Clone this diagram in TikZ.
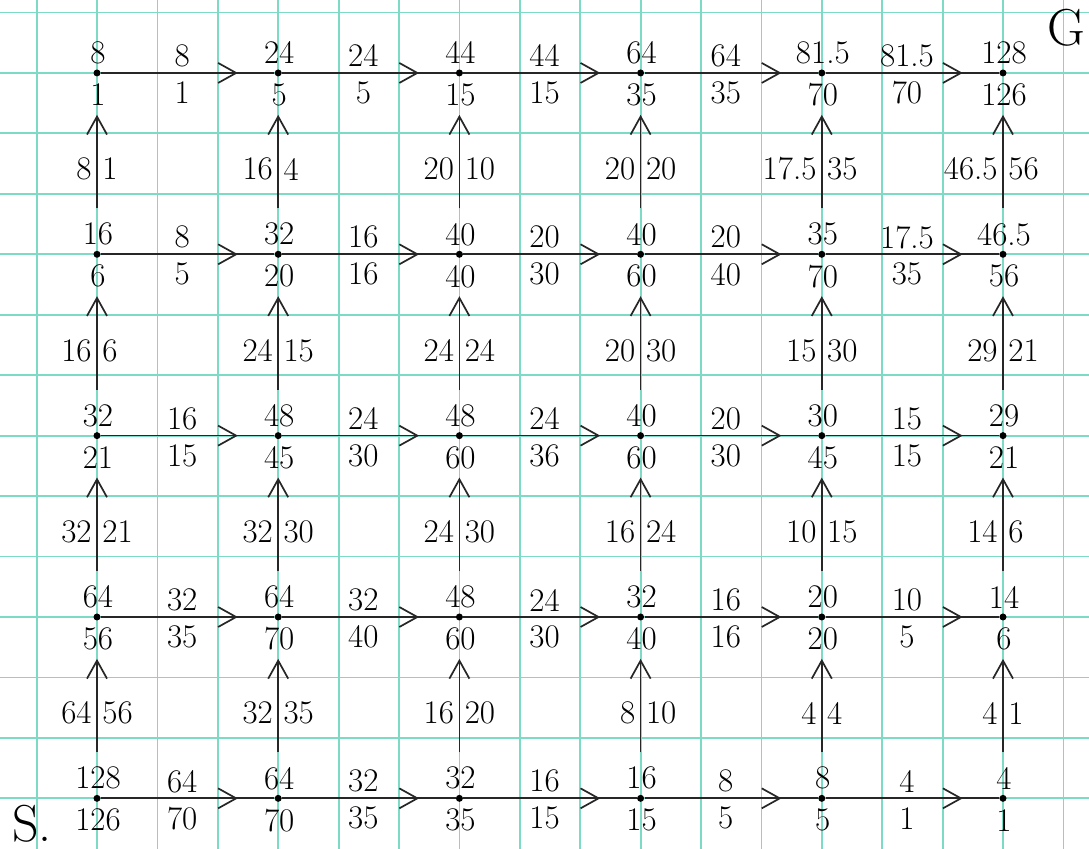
\documentclass[tikz,border=0pt]{standalone}
\usetikzlibrary{arrows.meta,decorations.markings,calc}
\definecolor{gridgreen}{RGB}{125,218,196}
\newcommand\noderow[2]{%
  \foreach \up/\dn [count=\c] in {#2} {%
    \node[dot] (n#1\c) at ({97+181.2*(\c-1)},{72.95+181.35*(#1-1)}) {};
    \node[num] (n#1\c-t) at ($(n#1\c)+(1,-20)$) {\up};
    \node[num] (n#1\c-b) at ($(n#1\c)+(1,22)$) {\dn};
  }}
\newcommand\hrow[2]{%
  \foreach \up/\dn [count=\c] in {#2} {%
    \pgfmathtruncatemacro\d{\c+1}
    \draw[hedge] (n#1\c) -- (n#1\d);
    \node[num] (h#1\c-t) at ($(n#1\c)!0.47!(n#1\d)+(0,-17)$) {\up};
    \node[num] (h#1\c-b) at ($(n#1\c)!0.47!(n#1\d)+(0,20)$) {\dn};
  }}
\newcommand\vrow[2]{%
  \foreach \lf/\rt [count=\c] in {#2} {%
    \pgfmathtruncatemacro\u{#1-1}
    \draw[vedge] (n#1\c) -- (n\u\c);
    \node[num,anchor=east] (v#1\c-l) at ($(n#1\c)!0.47!(n\u\c)+(-5,0)$) {\lf};
    \node[num,anchor=west] (v#1\c-r) at ($(n#1\c)!0.47!(n\u\c)+(5,0)$) {\rt};
  }}
\begin{document}
\begin{tikzpicture}[x=0.5pt,y=-0.5pt,
  dot/.style={circle,fill=black,inner sep=0pt,minimum size=3.5pt},
  num/.style={font=\fontsize{16.5}{19}\selectfont,inner sep=0pt},
  hedge/.style={line width=0.85pt,draw=black!85,postaction={decorate},
    decoration={markings,mark=at position 0.79 with {\arrow{Straight Barb[length=9pt,width=10pt,line width=0.85pt]}}}},
  vedge/.style={line width=0.85pt,draw=black!85,shorten <=21pt,shorten >=19pt,-{Straight Barb[length=9pt,width=10pt]}},
  gridline/.style={draw=gridgreen,line width=0.9pt},
  corner/.style={font=\fontsize{26}{30}\selectfont,inner sep=0pt}]
\useasboundingbox (0,0) rectangle (1089,849);
\fill[white] (0,0) rectangle (1089,849);
\foreach \i in {0,...,17} {\draw[gridline] ({36.6+60.4*\i},0) -- ({36.6+60.4*\i},849);}
\foreach \j in {0,...,13} {\draw[gridline] (0,{12.5+60.45*\j}) -- (1089,{12.5+60.45*\j});}
% nodes
\noderow{1}{8/1,24/5,44/15,64/35,81.5/70,128/126}
\noderow{2}{16/6,32/20,40/40,40/60,35/70,46.5/56}
\noderow{3}{32/21,48/45,48/60,40/60,30/45,29/21}
\noderow{4}{64/56,64/70,48/60,32/40,20/20,14/6}
\noderow{5}{128/126,64/70,32/35,16/15,8/5,4/1}
% horizontal edges
\hrow{1}{8/1,24/5,44/15,64/35,81.5/70}
\hrow{2}{8/5,16/16,20/30,20/40,17.5/35}
\hrow{3}{16/15,24/30,24/36,20/30,15/15}
\hrow{4}{32/35,32/40,24/30,16/16,10/5}
\hrow{5}{64/70,32/35,16/15,8/5,4/1}
% vertical edges
\vrow{2}{8/1,16/4,20/10,20/20,17.5/35,46.5/56}
\vrow{3}{16/6,24/15,24/24,20/30,15/30,29/21}
\vrow{4}{32/21,32/30,24/30,16/24,10/15,14/6}
\vrow{5}{64/56,32/35,16/20,8/10,4/4,4/1}
% corner labels
\node[corner] (S) at (32,824) {S.};
\node[corner] (G) at (1066,28) {G};
\end{tikzpicture}
\end{document}
